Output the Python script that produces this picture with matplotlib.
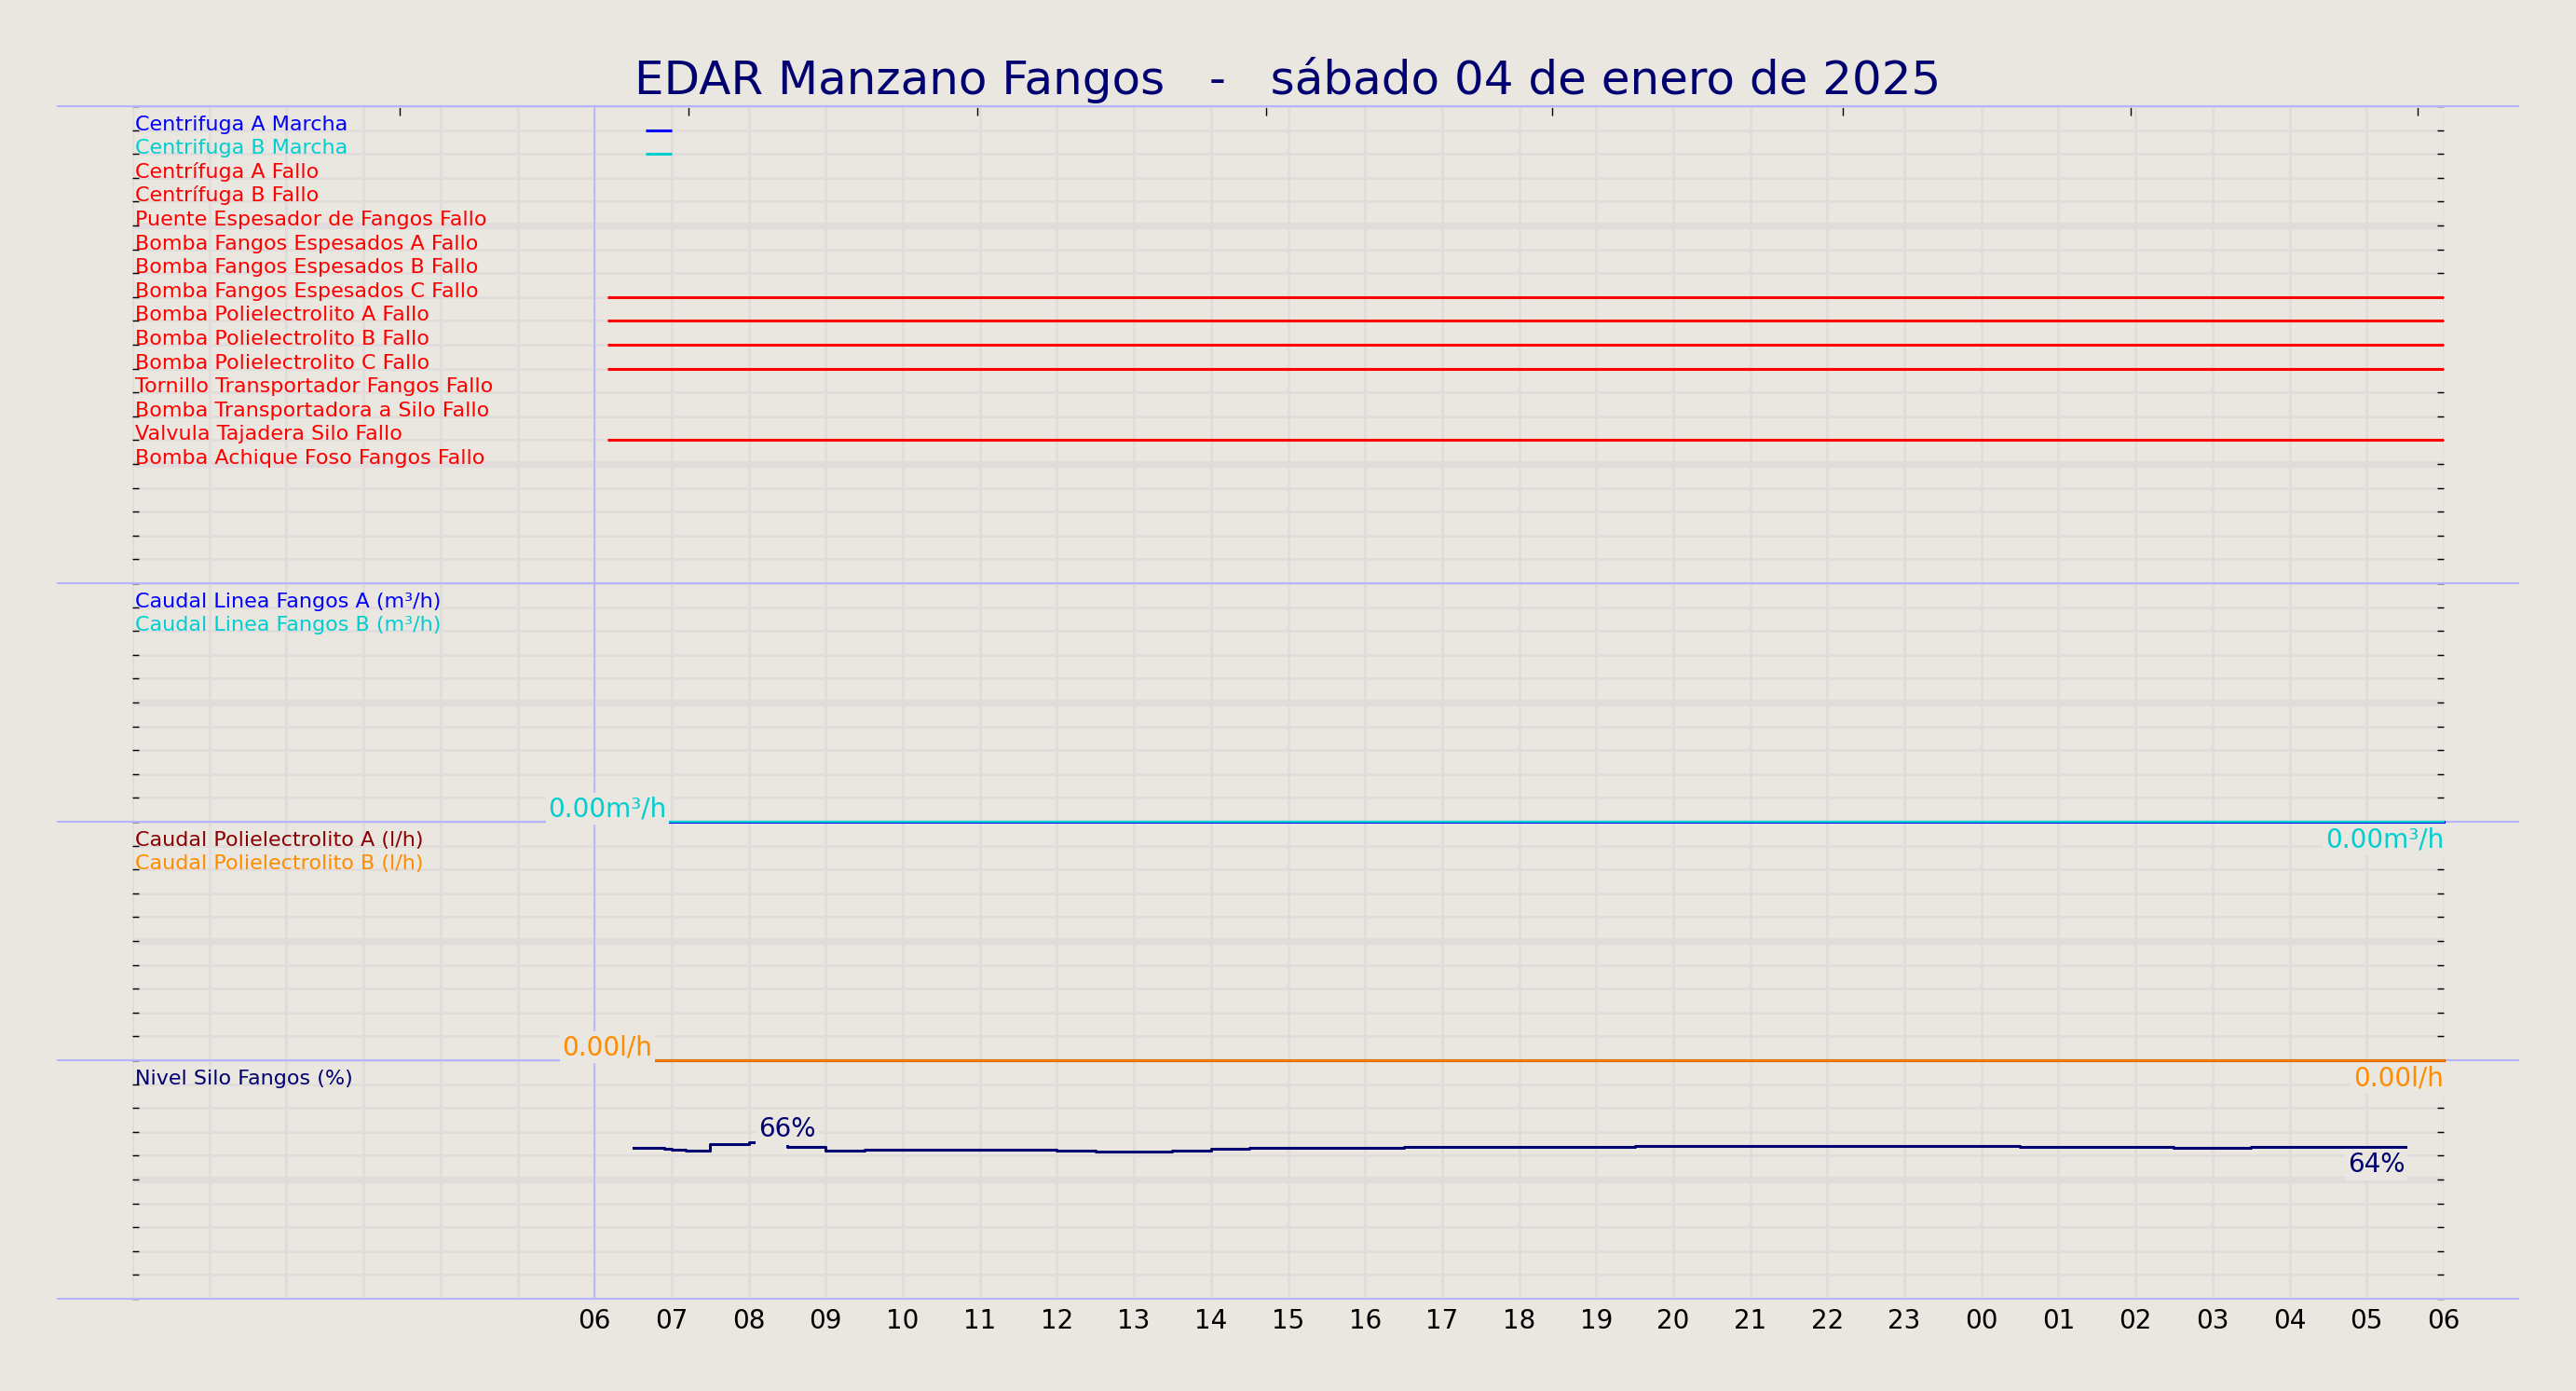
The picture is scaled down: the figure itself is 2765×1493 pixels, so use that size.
import matplotlib
matplotlib.use("Agg")
import matplotlib.pyplot as plt
import matplotlib.dates as mdates
import matplotlib.transforms as mtransforms
from matplotlib.ticker import FixedLocator, NullFormatter
import pandas as pd

# ---------------- data ----------------
title = "EDAR Manzano Fangos   -   sábado 04 de enero de 2025"
x_start = "2025-01-04 00:00"
x_end = "2025-01-05 06:00"
hour_labels_from = "2025-01-04 06:00"
cursor_time = "2025-01-04 06:00"

digital_names = [
    "Centrifuga A Marcha",
    "Centrifuga B Marcha",
    "Centrífuga A Fallo",
    "Centrífuga B Fallo",
    "Puente Espesador de Fangos Fallo",
    "Bomba Fangos Espesados A Fallo",
    "Bomba Fangos Espesados B Fallo",
    "Bomba Fangos Espesados C Fallo",
    "Bomba Polielectrolito A Fallo",
    "Bomba Polielectrolito B Fallo",
    "Bomba Polielectrolito C Fallo",
    "Tornillo Transportador Fangos Fallo",
    "Bomba Transportadora a Silo Fallo",
    "Valvula Tajadera Silo Fallo",
    "Bomba Achique Foso Fangos Fallo",
]
digital_colors = ["#0000FF", "#00CED1"] + ["#FF0000"] * 13
fault_period = [("2025-01-04 06:10", "2025-01-05 06:00")]
digital_on = [
    [("2025-01-04 06:40", "2025-01-04 07:00")],
    [("2025-01-04 06:40", "2025-01-04 07:00")],
    [], [], [], [], [],
    fault_period, fault_period, fault_period, fault_period,
    [], [],
    fault_period,
    [],
]

linea_names = ["Caudal Linea Fangos A (m³/h)", "Caudal Linea Fangos B (m³/h)"]
linea_colors = ["#0000FF", "#00CED1"]
linea_times = ["2025-01-04 06:10", "2025-01-05 06:00"]
linea_a = [0.0, 0.0]
linea_b = [0.0, 0.0]

poli_names = ["Caudal Polielectrolito A (l/h)", "Caudal Polielectrolito B (l/h)"]
poli_colors = ["#8B0000", "#FF8C00"]
poli_times = ["2025-01-04 06:10", "2025-01-05 06:00"]
poli_a = [0.0, 0.0]
poli_b = [0.0, 0.0]

nivel_name = "Nivel Silo Fangos (%)"
nivel_color = "#000070"
nivel_times = [
    "2025-01-04 06:30", "2025-01-04 06:54", "2025-01-04 07:00", "2025-01-04 07:11",
    "2025-01-04 07:30", "2025-01-04 08:00", "2025-01-04 08:30", "2025-01-04 09:00",
    "2025-01-04 09:30", "2025-01-04 12:00", "2025-01-04 12:30", "2025-01-04 13:30",
    "2025-01-04 14:00", "2025-01-04 14:30", "2025-01-04 16:30", "2025-01-04 19:30",
    "2025-01-05 00:30", "2025-01-05 02:30", "2025-01-05 03:30", "2025-01-05 05:30",
]
nivel_values = [
    63.3, 63.3, 62.9, 62.5, 62.1, 65.0, 65.6, 63.8, 62.2, 62.6,
    62.0, 61.7, 62.2, 62.9, 63.4, 63.8, 64.2, 63.7, 63.3, 63.8,
]

top_ticks = ["2025-01-04 03:28", "2025-01-04 07:13", "2025-01-04 10:58", "2025-01-04 14:43",
             "2025-01-04 18:26", "2025-01-04 22:12", "2025-01-05 01:56", "2025-01-05 05:40"]

# ---------------- style ----------------
BG = "#EAE6E0"
GRID = "#E1DCDB"
SEP = "#B4B4FF"
NAVY = "#000070"
ROW_FS = 16
VAL_FS = 20

plt.rcParams["font.family"] = ["DejaVu Sans"]

fig = plt.figure(figsize=(27.65, 14.93), dpi=100, facecolor=BG)
gs = fig.add_gridspec(4, 1, height_ratios=[20, 10, 10, 10],
                      left=0.05139, right=0.94861, top=0.92364, bottom=0.06631, hspace=0)
ax1 = fig.add_subplot(gs[0])
ax2 = fig.add_subplot(gs[1], sharex=ax1)
ax3 = fig.add_subplot(gs[2], sharex=ax1)
ax4 = fig.add_subplot(gs[3], sharex=ax1)
axes = [ax1, ax2, ax3, ax4]
for z, ax in zip([4, 3, 2, 1], axes):
    ax.set_zorder(z)

t = pd.to_datetime
xmin, xmax = t(x_start), t(x_end)
major_hours = pd.date_range(t(hour_labels_from), xmax, freq="h")
all_hours = pd.date_range(xmin, xmax, freq="h")

ax1.set_ylim(0, 20)
for ax in (ax2, ax3, ax4):
    ax.set_ylim(0, 100)

box = dict(boxstyle="square,pad=0.1", fc=BG, ec="none")

for ax in axes:
    ax.set_facecolor(BG)
    for s in ax.spines.values():
        s.set_visible(False)
    ax.set_xlim(xmin, xmax)
    ax.set_axisbelow(True)
    ax.xaxis.set_major_locator(FixedLocator(mdates.date2num(major_hours)))
    ax.xaxis.set_minor_locator(FixedLocator(mdates.date2num(all_hours)))
    ax.xaxis.set_major_formatter(mdates.DateFormatter("%H"))
    ax.xaxis.set_minor_formatter(NullFormatter())
    if ax is ax1:
        ax.yaxis.set_major_locator(FixedLocator([5, 15]))
        ax.yaxis.set_minor_locator(FixedLocator(list(range(0, 21))))
    else:
        ax.yaxis.set_major_locator(FixedLocator([50]))
        ax.yaxis.set_minor_locator(FixedLocator(list(range(0, 101, 10))))
    ax.grid(True, which="major", axis="y", color=GRID, lw=5.3)
    ax.grid(True, which="minor", axis="y", color=GRID, lw=2)
    ax.grid(True, which="both", axis="x", color=GRID, lw=2)
    ax.tick_params(axis="y", which="both", direction="in", length=5, width=1,
                   left=True, right=True, labelleft=False, labelright=False, color="black")
    ax.tick_params(axis="x", which="both", direction="out", length=0,
                   bottom=True, top=False, labelbottom=(ax is ax4), labeltop=False,
                   labelsize=20, pad=7)
    ax.axvline(t(cursor_time), color=SEP, lw=1.2, zorder=2.5)
    ax.axhline(0, xmin=-0.0323, xmax=1.0323, color=SEP, lw=1.5, zorder=1, clip_on=False)
ax1.axhline(20, xmin=-0.0323, xmax=1.0323, color=SEP, lw=1.5, zorder=1, clip_on=False)

# top odd ticks
sec = ax1.secondary_xaxis("top")
sec.xaxis.set_major_locator(FixedLocator(mdates.date2num(t(top_ticks))))
sec.xaxis.set_major_formatter(NullFormatter())
sec.tick_params(direction="in", length=7, width=1, color="black")
for s in sec.spines.values():
    s.set_visible(False)

# ---------------- panel 1: digital signals ----------------
trans1 = mtransforms.blended_transform_factory(ax1.transAxes, ax1.transData)
for i, (name, col, periods) in enumerate(zip(digital_names, digital_colors, digital_on)):
    y = 19 - i
    ax1.text(0.0012, y, name, transform=trans1, ha="left", va="baseline",
             fontsize=ROW_FS, color=col, zorder=4)
    for a, b in periods:
        ax1.plot([t(a), t(b)], [y, y], color=col, lw=2.2, solid_capstyle="butt", zorder=3)


def panel_labels(ax, names, colors, rows):
    tr = mtransforms.blended_transform_factory(ax.transAxes, ax.transData)
    for name, col, r in zip(names, colors, rows):
        ax.text(0.0012, r, name, transform=tr, ha="left", va="baseline",
                fontsize=ROW_FS, color=col, zorder=4)


# ---------------- panel 2 ----------------
panel_labels(ax2, linea_names, linea_colors, [90, 80])
lt = t(linea_times)
ax2.plot(lt, linea_a, color=linea_colors[0], lw=2.2, drawstyle="steps-pre", zorder=3, clip_on=False)
ax2.plot(lt, linea_b, color=linea_colors[1], lw=1.6, drawstyle="steps-pre", zorder=3.1, clip_on=False)
ax2.text(lt[0], linea_b[0], f"{linea_b[0]:.2f}m³/h", ha="center", va="bottom",
         fontsize=VAL_FS, color=linea_colors[1], bbox=box, zorder=5, clip_on=False)
ax2.annotate(f"{linea_b[-1]:.2f}m³/h", xy=(lt[-1], linea_b[-1]), xytext=(0, -4),
             textcoords="offset points", ha="right", va="top",
             fontsize=VAL_FS, color=linea_colors[1], bbox=box, zorder=5, annotation_clip=False)

# ---------------- panel 3 ----------------
panel_labels(ax3, poli_names, poli_colors, [90, 80])
pt = t(poli_times)
ax3.plot(pt, poli_a, color=poli_colors[0], lw=2.2, drawstyle="steps-pre", zorder=3, clip_on=False)
ax3.plot(pt, poli_b, color=poli_colors[1], lw=1.8, drawstyle="steps-pre", zorder=3.1, clip_on=False)
ax3.text(pt[0], poli_b[0], f"{poli_b[0]:.2f}l/h", ha="center", va="bottom",
         fontsize=VAL_FS, color=poli_colors[1], bbox=box, zorder=5, clip_on=False)
ax3.annotate(f"{poli_b[-1]:.2f}l/h", xy=(pt[-1], poli_b[-1]), xytext=(0, -4),
             textcoords="offset points", ha="right", va="top",
             fontsize=VAL_FS, color=poli_colors[1], bbox=box, zorder=5, annotation_clip=False)

# ---------------- panel 4 ----------------
panel_labels(ax4, [nivel_name], [nivel_color], [90])
nt = t(nivel_times)
ax4.plot(nt, nivel_values, color=nivel_color, lw=2.2, drawstyle="steps-pre", zorder=3)
imax = max(range(len(nivel_values)), key=lambda k: nivel_values[k])
ax4.text(nt[imax], nivel_values[imax], f"{nivel_values[imax]:.0f}%", ha="center", va="bottom",
         fontsize=VAL_FS, color=nivel_color, bbox=box, zorder=5)
ax4.annotate(f"{nivel_values[-1]:.0f}%", xy=(nt[-1], nivel_values[-1]), xytext=(0, -4),
             textcoords="offset points", ha="right", va="top",
             fontsize=VAL_FS, color=nivel_color, bbox=box, zorder=5)

fig.text(0.5, 1 - 100.7 / 1493, title, ha="center", va="baseline", fontsize=36, color=NAVY)

fig.savefig("out.png", dpi=100, facecolor=BG)
